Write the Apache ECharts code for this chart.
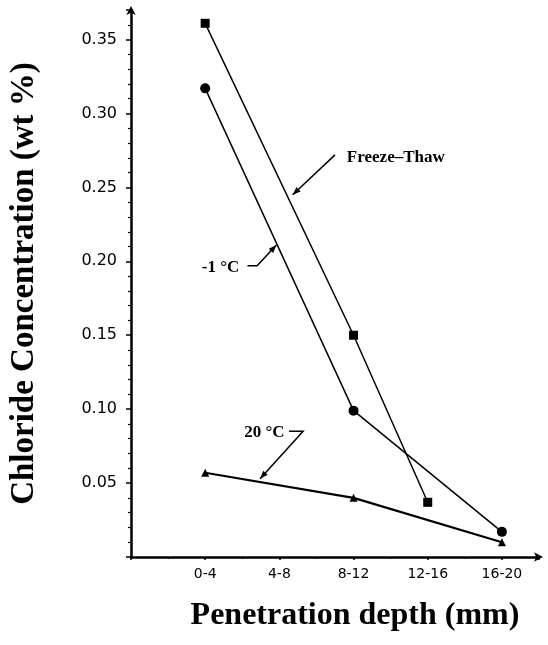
<!DOCTYPE html>
<html><head><meta charset="utf-8">
<script src="https://cdn.jsdelivr.net/npm/echarts@6/dist/echarts.min.js"></script>
<style>html,body{margin:0;padding:0;background:#fff}#c{width:548px;height:645px}</style>
</head><body><div id="c"></div>
<script>
// Category labels (x positions 1..5)
const depthLabels = ['0-4', '4-8', '8-12', '12-16', '16-20'];
// Series values: [categoryIndex(1-based), wt %]
const freezeThaw = [[1, 0.361], [3, 0.150], [4, 0.037]];
const minus1C   = [[1, 0.317], [3, 0.099], [5, 0.017]];
const plus20C   = [[1, 0.057], [3, 0.040], [5, 0.010]];
// y tick labels step
const yInterval = 0.05;

const chart = echarts.init(document.getElementById('c'), null, {renderer: 'canvas'});
const black = '#000';
const serif = '"Liberation Serif","Times New Roman",serif';
const sans = '"DejaVu Sans",sans-serif';

function lineSeries(name, data, symbol, size, width) {
  return {
    name, type: 'line', data, symbol, symbolSize: size,
    lineStyle: {color: black, width: width},
    itemStyle: {color: black},
    animation: false, z: 3
  };
}

chart.setOption({
  animation: false,
  backgroundColor: '#fff',
  grid: {left: 121, right: 9, top: 10, bottom: 88},
  xAxis: {
    type: 'value', min: 0, max: 5.5, interval: 1,
    splitLine: {show: false},
    axisLine: {lineStyle: {color: black, width: 2.5}, symbol: ['none', 'arrow'], symbolSize: [7, 9], symbolOffset: [0, 4]},
    axisTick: {show: true, length: 3, lineStyle: {color: black, width: 1.5}},
    minorTick: {show: true, splitNumber: 2, length: 2, lineStyle: {color: black}},
    axisLabel: {
      color: black, fontFamily: sans, fontSize: 14, margin: 10,
      showMaxLabel: false,
      formatter: v => (v >= 1 && v <= 5 && Number.isInteger(v)) ? depthLabels[v - 1] : ''
    },
    name: 'Penetration depth (mm)', nameLocation: 'middle', nameGap: 43,
    nameTextStyle: {color: black, fontFamily: serif, fontWeight: 'bold', fontSize: 32, padding: [0, 0, 0, 40]}
  },
  yAxis: {
    type: 'value', min: 0, max: 0.37, interval: yInterval,
    splitLine: {show: false},
    axisLine: {lineStyle: {color: black, width: 2.5}, symbol: ['none', 'arrow'], symbolSize: [7, 9], symbolOffset: [0, 4]},
    axisTick: {show: true, length: 5, lineStyle: {color: black, width: 1.5}},
    minorTick: {show: true, splitNumber: 5, length: 3, lineStyle: {color: black, width: 1.2}},
    axisLabel: {
      color: black, fontFamily: sans, fontSize: 16, margin: 14,
      showMaxLabel: false,
      formatter: v => {
        const k = Math.round(v / yInterval);
        return (k > 0 && Math.abs(v - k * yInterval) < 1e-6) ? v.toFixed(2) : '';
      }
    },
    name: 'Chloride Concentration (wt %)', nameLocation: 'middle', nameGap: 90, nameRotate: 90,
    nameTextStyle: {color: black, fontFamily: serif, fontWeight: 'bold', fontSize: 33}
  },
  series: [
    lineSeries('Freeze-Thaw', freezeThaw, 'rect', 9, 1.5),
    lineSeries('-1 °C', minus1C, 'circle', 10, 1.5),
    lineSeries('20 °C', plus20C, 'triangle', 8, 2.2)
  ]
});

// Annotations placed in data coordinates
const notes = [
  {text: 'Freeze–Thaw', at: [2.91, 0.270], align: 'left', path: [[2.75, 0.272], [2.18, 0.245]]},
  {text: '-1 °C', at: [1.46, 0.196], align: 'right', path: [[1.57, 0.197], [1.70, 0.197], [1.96, 0.211]]},
  {text: '20 °C', at: [2.07, 0.084], align: 'right', path: [[2.13, 0.085], [2.32, 0.085], [1.74, 0.053]]}
];
const gs = [];
notes.forEach(n => {
  const p = chart.convertToPixel({gridIndex: 0}, n.at);
  gs.push({type: 'text', x: p[0], y: p[1], z: 10,
    style: {text: n.text, fill: black, font: 'bold 17px ' + serif, textAlign: n.align, textVerticalAlign: 'middle'}});
  const pts = n.path.map(q => chart.convertToPixel({gridIndex: 0}, q));
  gs.push({type: 'polyline', z: 10, shape: {points: pts}, style: {stroke: black, lineWidth: 1.5, fill: null}});
  const a = pts[pts.length - 1], b = pts[pts.length - 2];
  const ang = Math.atan2(a[1] - b[1], a[0] - b[0]);
  const L = 8, W = 3;
  const bx = a[0] - L * Math.cos(ang), by = a[1] - L * Math.sin(ang);
  gs.push({type: 'polygon', z: 10, shape: {points: [a,
    [bx + W * Math.sin(ang), by - W * Math.cos(ang)],
    [bx - W * Math.sin(ang), by + W * Math.cos(ang)]]}, style: {fill: black}});
});
chart.setOption({graphic: gs});
</script>
</body></html>
